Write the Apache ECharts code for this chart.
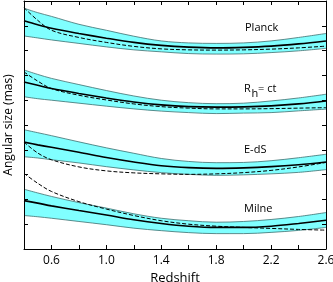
<!DOCTYPE html>
<html>
<head>
<meta charset="utf-8">
<script src="https://cdn.jsdelivr.net/npm/echarts@6/dist/echarts.min.js"></script>
<style>html,body{margin:0;padding:0;background:#fff}#c{width:333px;height:282px}</style>
</head>
<body>
<div id="c"></div>
<script>
// Redshift grid
var z = [0.4, 0.5, 0.6, 0.8, 1.0, 1.2, 1.4, 1.6, 1.8, 2.0, 2.2, 2.4, 2.6];
var xTicks = ['0.6', '1.0', '1.4', '1.8', '2.2', '2.6'];
var panelNames = ['Planck', 'Rh= ct', 'E-dS', 'Milne'];

// Planck
var planckUpper = [9.71, 9.53, 9.38, 9.06, 8.82, 8.58, 8.39, 8.31, 8.29, 8.31, 8.39, 8.53, 8.69];
var planckFit   = [9.20, 9.04, 8.90, 8.69, 8.50, 8.33, 8.21, 8.14, 8.11, 8.13, 8.18, 8.27, 8.39];
var planckLower = [8.59, 8.51, 8.43, 8.29, 8.15, 8.03, 7.95, 7.88, 7.86, 7.87, 7.92, 7.99, 8.09];
var planckModel = [9.73, 9.22, 8.82, 8.53, 8.33, 8.17, 8.07, 8.03, 8.02, 8.03, 8.06, 8.11, 8.18];
// Rh = ct
var rhUpper = [7.22, 7.04, 6.88, 6.63, 6.39, 6.17, 6.00, 5.90, 5.86, 5.88, 5.97, 6.09, 6.24];
var rhFit   = [6.73, 6.60, 6.47, 6.27, 6.09, 5.93, 5.81, 5.74, 5.72, 5.73, 5.77, 5.85, 5.97];
var rhLower = [6.14, 6.06, 6.00, 5.88, 5.76, 5.65, 5.56, 5.50, 5.46, 5.48, 5.50, 5.57, 5.64];
var rhModel = [7.14, 6.77, 6.47, 6.20, 6.01, 5.85, 5.74, 5.68, 5.65, 5.65, 5.66, 5.68, 5.70];
// E-dS
var edsUpper = [4.81, 4.69, 4.57, 4.32, 4.08, 3.86, 3.65, 3.53, 3.48, 3.49, 3.56, 3.68, 3.82];
var edsFit   = [4.31, 4.20, 4.10, 3.90, 3.69, 3.51, 3.36, 3.28, 3.25, 3.27, 3.32, 3.40, 3.51];
var edsLower = [3.72, 3.67, 3.60, 3.47, 3.32, 3.19, 3.08, 3.01, 2.97, 2.99, 3.03, 3.09, 3.20];
var edsModel = [4.31, 3.87, 3.60, 3.31, 3.15, 3.07, 3.03, 3.01, 3.03, 3.08, 3.17, 3.31, 3.49];
// Milne
var milneUpper = [2.41, 2.26, 2.12, 1.87, 1.65, 1.42, 1.24, 1.14, 1.08, 1.11, 1.19, 1.31, 1.47];
var milneFit   = [1.95, 1.85, 1.74, 1.55, 1.37, 1.18, 1.03, 0.92, 0.87, 0.87, 0.92, 1.03, 1.16];
var milneLower = [1.35, 1.30, 1.24, 1.11, 0.98, 0.84, 0.74, 0.66, 0.62, 0.62, 0.67, 0.75, 0.87];
var milneModel = [3.05, 2.65, 2.32, 1.91, 1.61, 1.35, 1.14, 1.00, 0.92, 0.87, 0.83, 0.79, 0.76];

var panels = [
  {u: planckUpper, f: planckFit, l: planckLower, m: planckModel},
  {u: rhUpper, f: rhFit, l: rhLower, m: rhModel},
  {u: edsUpper, f: edsFit, l: edsLower, m: edsModel},
  {u: milneUpper, f: milneFit, l: milneLower, m: milneModel}
];

var FONT = 'Open Sans';
var CYAN = '#80ffff';
var EDGE = '#3d6f6f';
var SM = 0.35;

function pairs(arr) { return z.map(function (x, i) { return [x, arr[i]]; }); }

// bands: cyan area down from the upper edge, then white area down from the lower edge
var series = [];
panels.forEach(function (p) {
  series.push({
    type: 'line', smooth: SM, symbol: 'none', silent: true, z: 1,
    data: pairs(p.u),
    lineStyle: {width: 0},
    areaStyle: {color: CYAN, opacity: 1, origin: 'start'}
  });
  series.push({
    type: 'line', smooth: SM, symbol: 'none', silent: true, z: 1,
    data: pairs(p.l),
    lineStyle: {width: 0},
    areaStyle: {color: '#fff', opacity: 1, origin: 'start'}
  });
});
panels.forEach(function (p) {
  [p.u, p.l].forEach(function (edge) {
    series.push({
      type: 'line', smooth: SM, symbol: 'none', silent: true, z: 2,
      data: pairs(edge),
      lineStyle: {color: EDGE, width: 0.8}
    });
  });
  series.push({
    type: 'line', smooth: SM, symbol: 'none', silent: true, z: 3,
    data: pairs(p.f),
    lineStyle: {color: '#000', width: 1.6}
  });
  series.push({
    type: 'line', smooth: SM, symbol: 'none', silent: true, z: 4,
    data: pairs(p.m),
    lineStyle: {color: '#000', width: 1, type: [4, 2]}
  });
});

var chart = echarts.init(document.getElementById('c'), null, {renderer: 'canvas'});
var axisCommon = {
  type: 'value', min: 0.4, max: 2.6, interval: 0.2, z: 10,
  axisLine: {show: true, onZero: false, lineStyle: {color: '#000', width: 1}},
  axisTick: {show: true, inside: true, length: 4, lineStyle: {color: '#000', width: 1}},
  splitLine: {show: false}
};
var yCommon = {
  type: 'value', min: 0, max: 10, interval: 1, z: 10,
  axisLine: {show: true, onZero: false, lineStyle: {color: '#000', width: 1}},
  axisTick: {show: true, inside: true, length: 4, lineStyle: {color: '#000', width: 1}},
  axisLabel: {show: false},
  splitLine: {show: false}
};

function textEl(txt, left, cy, size) {
  return {type: 'text', left: left, top: cy - size * 0.68, silent: true, z: 20,
    style: {text: txt, font: size + 'px "' + FONT + '"', fill: '#000'}};
}

chart.setOption({
  animation: false,
  backgroundColor: '#fff',
  grid: {left: 24, right: 7, top: 1, bottom: 33, containLabel: false, outerBoundsMode: 'none'},
  xAxis: [
    Object.assign({}, axisCommon, {
      position: 'bottom',
      name: 'Redshift', nameLocation: 'middle', nameGap: 16,
      nameTextStyle: {fontFamily: FONT, fontSize: 13, color: '#000'},
      axisLabel: {
        show: true, margin: 6, fontFamily: FONT, fontSize: 12, color: '#000',
        formatter: function (v) {
          var s = (+v).toFixed(1);
          return xTicks.indexOf(s) >= 0 ? s : '';
        }
      }
    }),
    Object.assign({}, axisCommon, {position: 'top', axisLabel: {show: false}})
  ],
  yAxis: [
    Object.assign({}, yCommon, {
      position: 'left',
      name: 'Angular size (mas)', nameLocation: 'middle', nameGap: 9,
      nameTextStyle: {fontFamily: FONT, fontSize: 12, color: '#000'}
    }),
    Object.assign({}, yCommon, {position: 'right'})
  ],
  series: series,
  graphic: [
    textEl(panelNames[0], 245, 30, 11),
    {type: 'group', silent: true, children: [
      textEl('R', 244, 91, 11),
      textEl('h', 251.5, 96, 11),
      textEl('= ct', 258, 91, 11)
    ]},
    textEl(panelNames[2], 244, 151.5, 11),
    textEl(panelNames[3], 244, 210.5, 11)
  ]
});
</script>
</body>
</html>
